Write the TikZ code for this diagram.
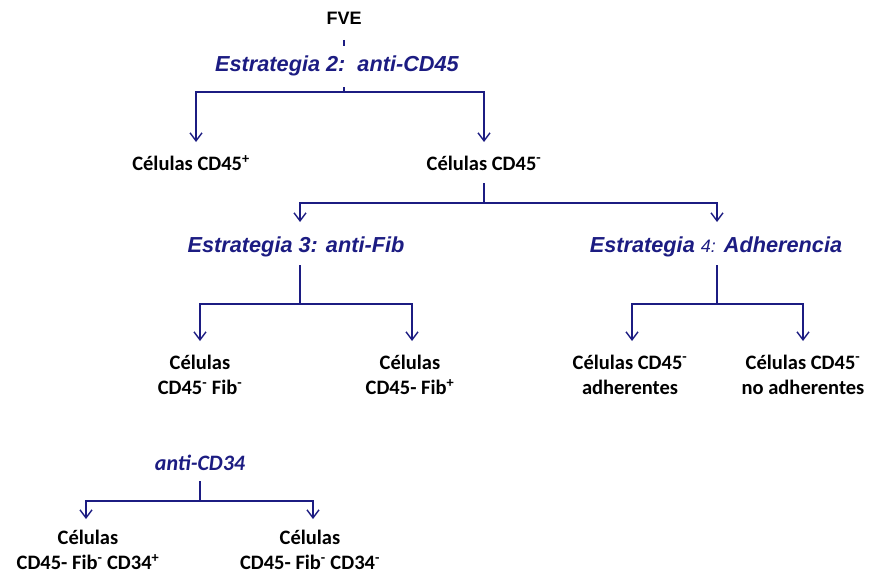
\documentclass[tikz,border=0pt]{standalone}
\usepackage{fontspec}
\setmainfont{Carlito}
\newfontfamily\arialf{Liberation Sans}
\usetikzlibrary{arrows.meta}
\definecolor{navy}{RGB}{28,28,130}
\newcommand{\sps}[1]{\textsuperscript{#1}}
\begin{document}
\begin{tikzpicture}[x=1pt,y=-1pt,
 cell/.style={font=\fontsize{20.5}{25.5}\selectfont\bfseries, align=center, text=black, inner sep=0pt},
 strat/.style={font=\arialf\fontsize{21.7}{24}\selectfont\bfseries\itshape, text=navy, inner sep=0pt},
 conn/.style={draw=navy, line width=1.4pt},
 arr/.style={conn, -{Straight Barb[length=8pt,width=12pt]}}]
\useasboundingbox (0,0) rectangle (869,578);

% nodes
\node[font=\arialf\fontsize{18}{22}\selectfont\bfseries, inner sep=0pt] (fve) at (344,18) {FVE};
\node[strat] (est2) at (337,66) {Estrategia 2:\ \ anti-CD45};
\node[cell] (c45p) at (191,163) {Células CD45\sps{+}};
\node[cell] (c45m) at (484,163) {Células CD45\sps{-}};
\node[strat] (est3) at (296,247) {Estrategia 3: anti-Fib};
\node[strat] (est4) at (716,247) {Estrategia {\fontsize{18}{20}\selectfont\mdseries 4:} Adherencia};
\node[cell] (fibm) at (200,375) {Células\\CD45\sps{-} Fib\sps{-}};
\node[cell] (fibp) at (410,375) {Células\\CD45- Fib\sps{+}};
\node[cell] (adh) at (630,375) {Células CD45\sps{-}\\adherentes};
\node[cell] (noadh) at (803,375) {Células CD45\sps{-}\\no adherentes};
\node[cell, font=\fontsize{22}{24}\selectfont\bfseries\itshape, text=navy] (a34) at (200,463) {anti-CD34};
\node[cell] (c34p) at (88,550) {Células\\CD45- Fib\sps{-} CD34\sps{+}};
\node[cell] (c34m) at (310,550) {Células\\CD45- Fib\sps{-} CD34\sps{-}};

% level 1
\coordinate (t1) at (344,40); \coordinate (t2) at (344,46);
\draw[conn] (t1) -- (t2);
\coordinate (s1) at (344,87); \coordinate (j1) at (344,92);
\coordinate (e1a) at (196,142); \coordinate (e1b) at (484,142);
\draw[conn] (s1) -- (j1);
\draw[arr] (j1) -| (e1a);
\draw[arr] (j1) -| (e1b);

% level 2
\coordinate (s2) at (484,183); \coordinate (j2) at (484,203);
\coordinate (e2a) at (300,222); \coordinate (e2b) at (717,222);
\draw[conn] (s2) -- (j2);
\draw[arr] (j2) -| (e2a);
\draw[arr] (j2) -| (e2b);

% level 3 left
\coordinate (s3) at (300,265); \coordinate (j3) at (300,304);
\coordinate (e3a) at (200,341); \coordinate (e3b) at (412,341);
\draw[conn] (s3) -- (j3);
\draw[arr] (j3) -| (e3a);
\draw[arr] (j3) -| (e3b);

% level 3 right
\coordinate (s4) at (717,265); \coordinate (j4) at (717,304);
\coordinate (e4a) at (632,341); \coordinate (e4b) at (803,341);
\draw[conn] (s4) -- (j4);
\draw[arr] (j4) -| (e4a);
\draw[arr] (j4) -| (e4b);

% anti-CD34
\coordinate (s5) at (200,481); \coordinate (j5) at (200,501);
\coordinate (e5a) at (86,519); \coordinate (e5b) at (313,519);
\draw[conn] (s5) -- (j5);
\draw[arr] (j5) -| (e5a);
\draw[arr] (j5) -| (e5b);
\end{tikzpicture}
\end{document}
